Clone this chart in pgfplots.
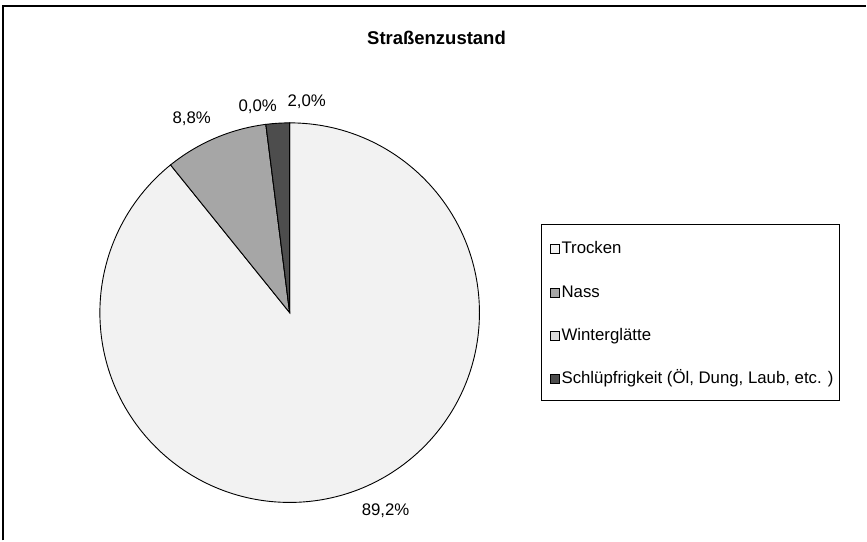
\documentclass[border=0pt]{standalone}
\usepackage{pgfplots}
\pgfplotsset{compat=1.18}
\usepackage{pgfplotstable}
\usepackage{fontspec}
\setmainfont{Liberation Sans}

\definecolor{cTrocken}{HTML}{F2F2F2}
\definecolor{cNass}{HTML}{A6A6A6}
\definecolor{cWinter}{HTML}{D9D9D9}
\definecolor{cSchl}{HTML}{4D4D4D}

\pgfplotstableread{
idx value
0 89.2
1 8.8
2 0.0
3 2.0
}\piedata

\begin{document}
\begin{tikzpicture}
\pgfplotstablegetelem{0}{value}\of\piedata \let\vA\pgfplotsretval
\pgfplotstablegetelem{1}{value}\of\piedata \let\vB\pgfplotsretval
\pgfplotstablegetelem{2}{value}\of\piedata \let\vC\pgfplotsretval
\pgfplotstablegetelem{3}{value}\of\piedata \let\vD\pgfplotsretval
\pgfmathsetmacro{\aA}{90}
\pgfmathsetmacro{\aB}{\aA-3.6*\vA}
\pgfmathsetmacro{\aC}{\aB-3.6*\vB}
\pgfmathsetmacro{\aD}{\aC-3.6*\vC}
\pgfmathsetmacro{\aE}{\aD-3.6*\vD}
\def\R{190pt}
\begin{axis}[x=1pt, y=1pt, xmin=0, xmax=867, ymin=0, ymax=541,
  y dir=reverse, hide axis, clip=false, scale only axis]
\path[fill=white] (axis cs:0,0) rectangle (axis cs:867,541);
% frame
\draw[line width=2pt] (axis cs:3,541) -- (axis cs:3,5.7) -- (axis cs:867,5.7);
% title
\node[anchor=base, inner sep=0pt, font=\fontsize{18.5}{22}\selectfont\bfseries] at (axis cs:437,45) {Straßenzustand};
% wedges
\filldraw[fill=cTrocken, draw=black, line width=0.9pt] (axis cs:290,313) -- ++(\aA:\R) arc[start angle=\aA, end angle=\aB, radius=\R] -- cycle;
\filldraw[fill=cNass, draw=black, line width=0.9pt] (axis cs:290,313) -- ++(\aB:\R) arc[start angle=\aB, end angle=\aC, radius=\R] -- cycle;
\filldraw[fill=cWinter, draw=black, line width=0.9pt] (axis cs:290,313) -- ++(\aC:\R) arc[start angle=\aC, end angle=\aD, radius=\R] -- cycle;
\filldraw[fill=cSchl, draw=black, line width=0.9pt] (axis cs:290,313) -- ++(\aD:\R) arc[start angle=\aD, end angle=\aE, radius=\R] -- cycle;
% labels
\begin{scope}[every node/.style={anchor=base, inner sep=0pt, font=\fontsize{16.8}{19}\selectfont}]
\node at (axis cs:192,124) {8,8\%};
\node at (axis cs:258,111.5) {0,0\%};
\node at (axis cs:307,106.5) {2,0\%};
\node at (axis cs:386,516.5) {89,2\%};
\end{scope}
% legend
\draw[line width=0.9pt] (axis cs:542.3,225) rectangle (axis cs:840,400.5);
\begin{scope}[every node/.style={anchor=base west, inner sep=0pt, font=\fontsize{16.8}{19}\selectfont}]
\filldraw[fill=cTrocken, draw=black, line width=0.6pt] (axis cs:551,245) rectangle (axis cs:560,254);
\node at (axis cs:562,254) {Trocken};
\filldraw[fill=cNass, draw=black, line width=0.6pt] (axis cs:551,288.5) rectangle (axis cs:560,297.5);
\node at (axis cs:562,297.5) {Nass};
\filldraw[fill=cWinter, draw=black, line width=0.6pt] (axis cs:551,331.5) rectangle (axis cs:560,340.5);
\node at (axis cs:562,340.5) {Winterglätte};
\filldraw[fill=cSchl, draw=black, line width=0.6pt] (axis cs:551,375) rectangle (axis cs:560,384);
\node at (axis cs:562,384) {Schlüpfrigkeit (Öl, Dung, Laub, etc. )};
\end{scope}
\end{axis}
\end{tikzpicture}
\end{document}
